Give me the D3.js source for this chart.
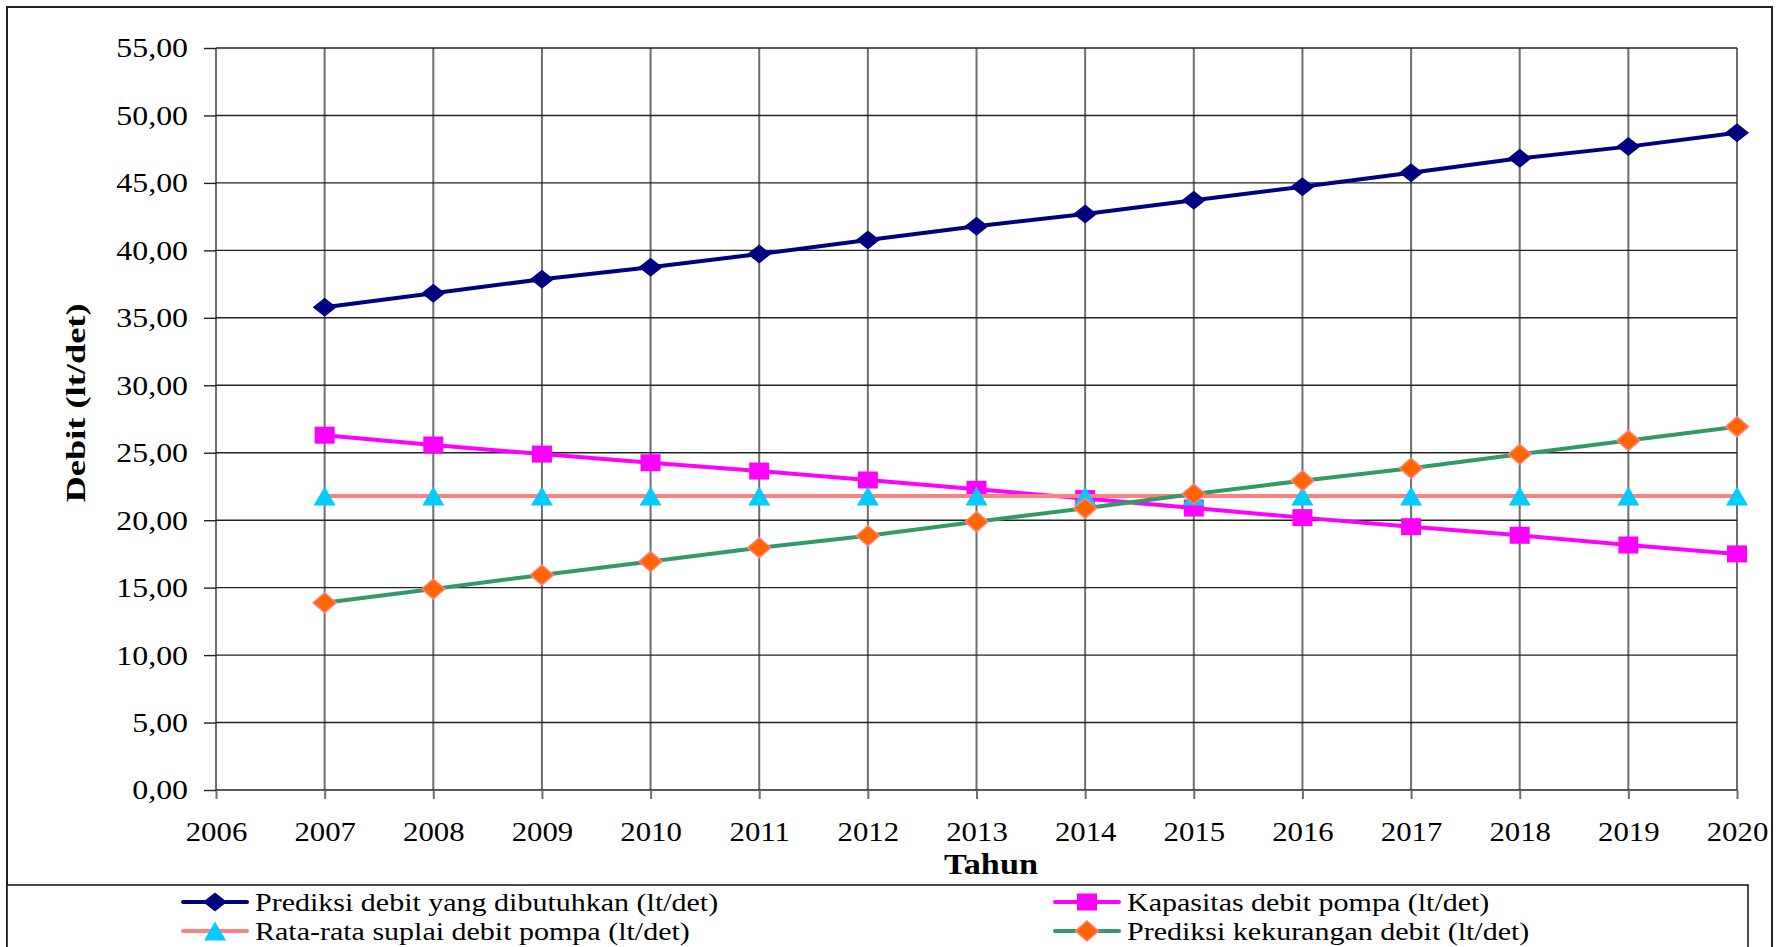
<!DOCTYPE html>
<html lang="id">
<head>
<meta charset="UTF-8">
<title>Prediksi debit air (lt/det)</title>
<style>
body { margin: 0; background: #fff; }
svg text { font-family: "Liberation Serif", "Times New Roman", serif; fill: #000; }
.tick text { font-size: 27px; }
.legend text { font-size: 25px; }
.title { font-weight: bold; }
</style>
</head>
<body>
<svg id="chart"></svg>
<script src="https://cdn.jsdelivr.net/npm/d3@7"></script>
<script>
// data
const years = [2007, 2008, 2009, 2010, 2011, 2012, 2013, 2014, 2015, 2016, 2017, 2018, 2019, 2020];
const xTicks = [2006, 2007, 2008, 2009, 2010, 2011, 2012, 2013, 2014, 2015, 2016, 2017, 2018, 2019, 2020];
const yTicks = [0, 5, 10, 15, 20, 25, 30, 35, 40, 45, 50, 55];

const kebutuhan  = [35.78, 36.82, 37.86, 38.75, 39.73, 40.77, 41.79, 42.70, 43.72, 44.72, 45.76, 46.82, 47.69, 48.72];
const kapasitas  = [26.30, 25.57, 24.90, 24.26, 23.64, 22.98, 22.29, 21.60, 20.90, 20.19, 19.52, 18.88, 18.16, 17.50];
const suplai     = [21.80, 21.80, 21.80, 21.80, 21.80, 21.80, 21.80, 21.80, 21.80, 21.80, 21.80, 21.80, 21.80, 21.80];
const kekurangan = [13.88, 14.90, 15.94, 16.93, 17.96, 18.85, 19.89, 20.88, 21.94, 22.93, 23.85, 24.88, 25.90, 26.93];

const legendLabels = [
  "Prediksi debit yang dibutuhkan (lt/det)",
  "Kapasitas debit pompa (lt/det)",
  "Rata-rata suplai debit pompa (lt/det)",
  "Prediksi kekurangan debit (lt/det)"
];

const totalWidth = 1780, totalHeight = 947;
const margin = {top: 48, right: 43, bottom: 157, left: 216};

const svg = d3.select("#chart")
  .attr("width", totalWidth)
  .attr("height", totalHeight);

svg.append("rect")
  .attr("width", totalWidth).attr("height", totalHeight)
  .attr("fill", "#fff");

const x = d3.scaleLinear()
  .domain([2006, 2020])
  .range([margin.left, totalWidth - margin.right]);

const y = d3.scaleLinear()
  .domain([0, 55])
  .range([totalHeight - margin.bottom, margin.top]);

const idLocale = d3.formatLocale({decimal: ",", thousands: ".", grouping: [3], currency: ["Rp", ""]});
const fmt = idLocale.format(".2f");

// marker shapes, half width / half height
function shapePath(type, hw, hh) {
  if (type == "diamond") return `M0,${-hh}L${hw},0L0,${hh}L${-hw},0Z`;
  if (type == "square") return `M${-hw},${-hh}H${hw}V${hh}H${-hw}Z`;
  return `M0,${-hh}L${hw},${hh}L${-hw},${hh}Z`;
}

const series = [
  {label: legendLabels[0], values: kebutuhan,  line: "#000080", shape: "diamond",  fill: "#000080", stroke: "none",    hw: 12,   hh: 9.5},
  {label: legendLabels[1], values: kapasitas,  line: "#ff00ff", shape: "square",   fill: "#ff00ff", stroke: "none",    hw: 10,   hh: 8.5},
  {label: legendLabels[2], values: suplai,     line: "#ff8080", shape: "triangle", fill: "#00ccff", stroke: "none",    hw: 11,   hh: 9.5},
  {label: legendLabels[3], values: kekurangan, line: "#339966", shape: "diamond",  fill: "#ff6600", stroke: "#ff8080", hw: 11.5, hh: 10}
];

// gridlines
svg.append("g")
  .selectAll("line")
  .data(xTicks)
  .join("line")
  .attr("x1", d => x(d)).attr("x2", d => x(d))
  .attr("y1", y(55)).attr("y2", y(0))
  .attr("stroke", "#6e6e6e")
  .attr("stroke-width", 2);

svg.append("g")
  .selectAll("line")
  .data(yTicks)
  .join("line")
  .attr("x1", x(2006)).attr("x2", x(2020))
  .attr("y1", d => y(d)).attr("y2", d => y(d))
  .attr("stroke", "#222")
  .attr("stroke-width", 1.4);

// axes
const xAxis = svg.append("g")
  .attr("transform", `translate(0,${y(0)})`)
  .call(d3.axisBottom(x).tickValues(xTicks).tickSize(9).tickFormat(d3.format("d")));
xAxis.select(".domain").remove();
xAxis.selectAll(".tick line").attr("stroke", "#6e6e6e").attr("stroke-width", 2);
xAxis.selectAll(".tick text")
  .attr("y", 51).attr("dy", 0)
  .attr("transform", "scale(1.14,1)");

const yAxis = svg.append("g")
  .attr("transform", `translate(${x(2006)},0)`)
  .call(d3.axisLeft(y).tickValues(yTicks).tickSize(12).tickFormat(fmt));
yAxis.select(".domain").remove();
yAxis.selectAll(".tick line").attr("stroke", "#222").attr("stroke-width", 1.4);
yAxis.selectAll(".tick text")
  .attr("x", 0)
  .attr("dy", "0.33em")
  .attr("transform", "translate(-28,0) scale(1.18,1)");

// axis titles
svg.append("text")
  .attr("class", "title")
  .attr("text-anchor", "middle")
  .style("font-size", "30px")
  .attr("transform", "translate(991,874) scale(1.14,1)")
  .text("Tahun");

svg.append("text")
  .attr("class", "title")
  .attr("text-anchor", "middle")
  .style("font-size", "28px")
  .attr("transform", "translate(85,403) rotate(-90) scale(1.3,1)")
  .text("Debit (lt/det)");

// series
const line = d3.line()
  .x((d, i) => x(years[i]))
  .y(d => y(d));

series.forEach(s => {
  const g = svg.append("g");
  g.append("path")
    .attr("d", line(s.values))
    .attr("fill", "none")
    .attr("stroke", s.line)
    .attr("stroke-width", 4);
  g.selectAll("path.marker")
    .data(s.values)
    .join("path")
    .attr("class", "marker")
    .attr("d", shapePath(s.shape, s.hw, s.hh))
    .attr("transform", (d, i) => `translate(${x(years[i])},${y(d)})`)
    .attr("fill", s.fill)
    .attr("stroke", s.stroke)
    .attr("stroke-width", 1.5);
});

// frame
svg.append("rect")
  .attr("x", 7).attr("y", 7)
  .attr("width", 1765).attr("height", 1000)
  .attr("fill", "none")
  .attr("stroke", "#222")
  .attr("stroke-width", 2);

// legend
const legend = svg.append("g").attr("class", "legend");
legend.append("rect")
  .attr("x", 7).attr("y", 885)
  .attr("width", 1741).attr("height", 100)
  .attr("fill", "#fff")
  .attr("stroke", "#111")
  .attr("stroke-width", 1.5);

const colX = [183, 1055];
const rowY = [902, 931];

const items = legend.selectAll("g.item")
  .data(series)
  .join("g")
  .attr("class", "item")
  .attr("transform", (d, i) => `translate(${colX[i % 2]},${rowY[Math.floor(i / 2)]})`);

items.append("line")
  .attr("x1", 0).attr("x2", 64)
  .attr("stroke", d => d.line)
  .attr("stroke-width", 4)
  .attr("stroke-linecap", "round");

items.append("path")
  .attr("d", d => shapePath(d.shape, d.hw, d.hh))
  .attr("transform", "translate(32,0)")
  .attr("fill", d => d.fill)
  .attr("stroke", d => d.stroke)
  .attr("stroke-width", 1.5);

items.append("text")
  .attr("transform", "translate(72,8.5) scale(1.2,1)")
  .text(d => d.label);
</script>
</body>
</html>
